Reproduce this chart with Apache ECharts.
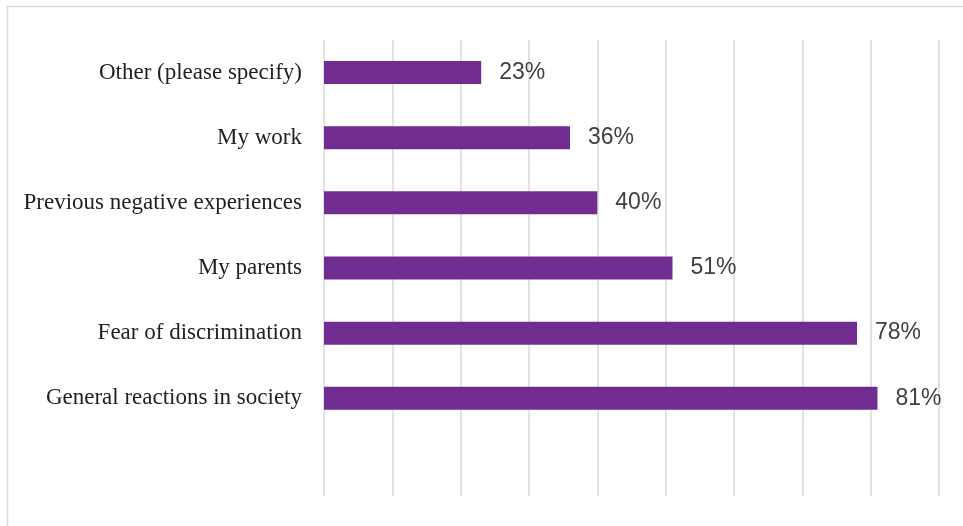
<!DOCTYPE html>
<html><head><meta charset="utf-8">
<script src="https://cdn.jsdelivr.net/npm/echarts@6/dist/echarts.min.js"></script>
<style>html,body{margin:0;padding:0;background:#fff}#c{width:963px;height:526px}</style>
</head><body><div id="c"></div>
<script>
const categories = ['', 'General reactions in society', 'Fear of discrimination', 'My parents', 'Previous negative experiences', 'My work', 'Other (please specify)'];
const values = [null, 81, 78, 51, 40, 36, 23];
const axisMax = 90;
const axisInterval = 10;

const chart = echarts.init(document.getElementById('c'), null, {renderer: 'canvas'});
chart.setOption({
  animation: false,
  graphic: [{
    type: 'rect', silent: true,
    shape: {x: 7.5, y: 6.5, width: 1000, height: 600},
    style: {fill: 'none', stroke: '#d9d9d9', lineWidth: 1.5}
  }],
  grid: {left: 324, right: 24, top: 40, bottom: 30, containLabel: false},
  xAxis: {
    type: 'value', min: 0, max: axisMax, interval: axisInterval,
    axisLabel: {show: false}, axisLine: {show: false}, axisTick: {show: false},
    splitLine: {show: true, lineStyle: {color: '#d9d9d9', width: 1.5}}
  },
  yAxis: {
    type: 'category', data: categories,
    axisLine: {show: false}, axisTick: {show: false},
    axisLabel: {fontFamily: 'Liberation Serif', fontSize: 23, color: '#1f1f1f', margin: 22}
  },
  series: [{
    type: 'bar', data: values, barWidth: 23,
    itemStyle: {color: '#702c91'},
    label: {show: true, position: 'right', distance: 18, formatter: p => p.value + '%',
      fontFamily: 'Liberation Sans', fontSize: 23, color: '#404040'}
  }]
});
</script></body></html>
